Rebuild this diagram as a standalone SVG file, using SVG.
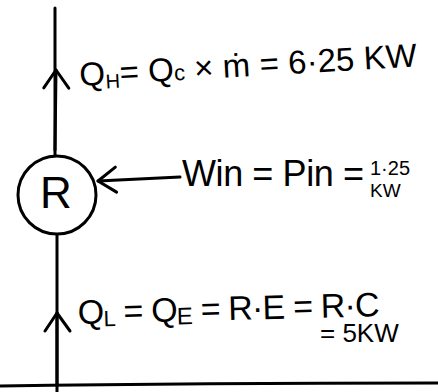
<svg xmlns="http://www.w3.org/2000/svg" width="438" height="392" viewBox="0 0 438 392">
<style>
.ln{fill:none;stroke:#000;stroke-width:3;stroke-linecap:round;stroke-linejoin:round}
.t{font-family:"Liberation Sans","DejaVu Sans",sans-serif;fill:#000}
</style>
<defs>
<marker id="arr" markerUnits="userSpaceOnUse" markerWidth="24" markerHeight="30" refX="19" refY="13" orient="auto" overflow="visible">
<path d="M1,1 L19,13 L1,26" fill="none" stroke="#000" stroke-width="3" stroke-linecap="round" stroke-linejoin="round"/>
</marker>
</defs>
<rect width="438" height="392" fill="#fff"/>
<g id="connectors">
<path class="ln" d="M55,8 L55,155"/>
<path class="ln" d="M55,150 L56,70" marker-end="url(#arr)"/>
<path class="ln" d="M57,235 L57,392"/>
<path class="ln" d="M57,385 L57,313" marker-end="url(#arr)"/>
<path class="ln" d="M180,177 L98,181" marker-end="url(#arr)"/>
</g>
<g id="node-R">
<circle cx="57" cy="195" r="39" class="ln"/>
<text class="t" x="56" y="208" font-size="44" text-anchor="middle">R</text>
</g>
<g id="ground">
<path class="ln" d="M0,386 Q200,383 438,383"/>
</g>
<g id="label-QH">
<text class="t" x="80" y="86" font-size="33" transform="rotate(-3.3 80 86)" textLength="338" lengthAdjust="spacing">Q<tspan font-size="20" dy="4">H</tspan><tspan dy="-4">= Q</tspan><tspan font-size="22">c</tspan> × ṁ = 6·25 KW</text>
</g>
<g id="label-Win">
<text class="t" x="182" y="186" font-size="36" textLength="182" lengthAdjust="spacing">Win = Pin =</text>
<text class="t" x="370" y="175" font-size="20">1·25</text>
<text class="t" x="370" y="197" font-size="19">KW</text>
</g>
<g id="label-QL">
<text class="t" x="78" y="324" font-size="34" transform="rotate(-1.5 78 324)" textLength="302" lengthAdjust="spacing">Q<tspan font-size="22" dy="3">L</tspan><tspan dy="-3"> = Q</tspan><tspan font-size="24" dy="3">E</tspan><tspan dy="-3"> = R·E = R·C</tspan></text>
<text class="t" x="320" y="342" font-size="26">= 5KW</text>
</g>
</svg>
